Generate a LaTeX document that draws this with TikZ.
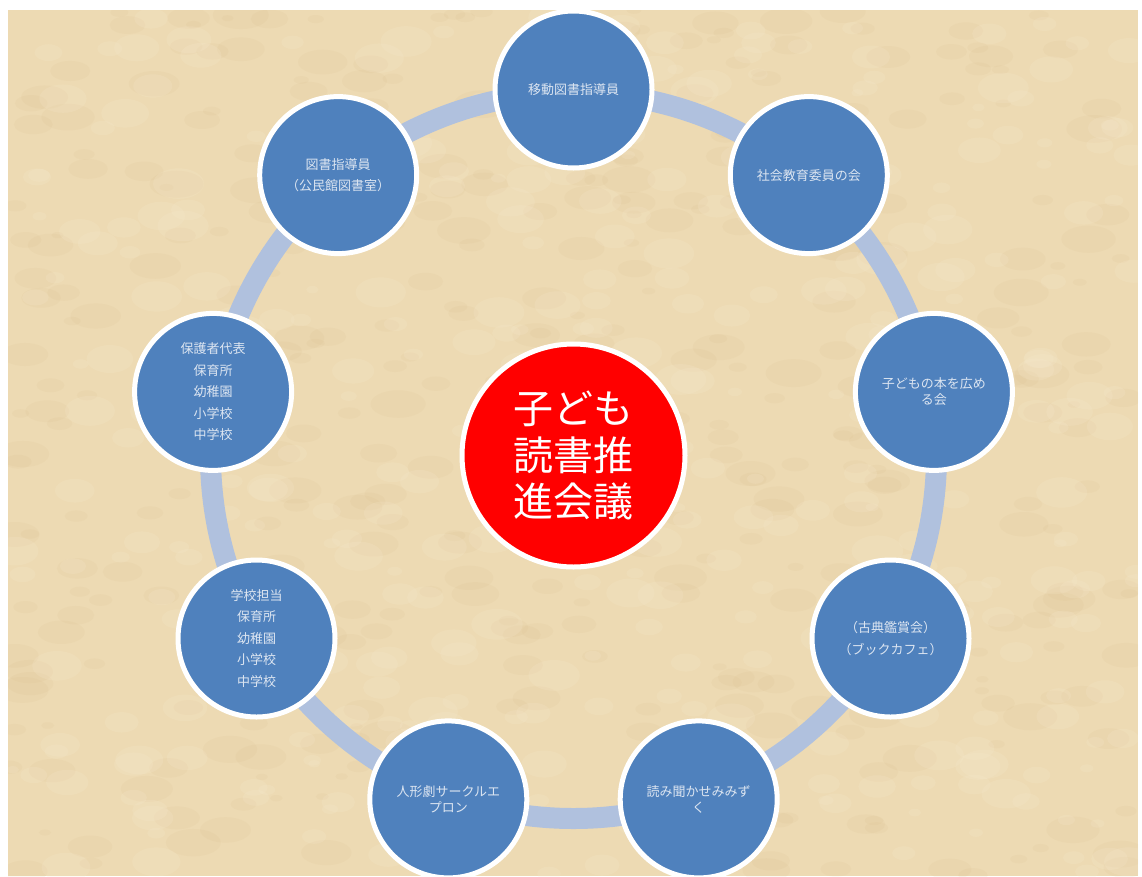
\documentclass[tikz,border=0pt]{standalone}
\usepackage{fontspec}
\setmainfont{Noto Sans CJK JP}
\usepackage{xcolor}
\usepackage{tikz}

\definecolor{parch}{HTML}{EDDAB3}
\definecolor{parchdark}{HTML}{D3B47E}
\definecolor{parchlight}{HTML}{F8EBD0}
\definecolor{ringblue}{HTML}{B0C1DE}
\definecolor{memberblue}{HTML}{4F81BD}
\definecolor{membertext}{HTML}{DCE5F1}

\tikzset{
    member/.style = {circle, draw = white, line width = 5pt, fill = memberblue, minimum size = 157pt,
                     inner sep = 0pt, align = center, text = membertext, font = \fontsize{13}{16}\selectfont},
    memberlist/.style = {member, font = \fontsize{13}{21.5}\selectfont},
    hub/.style = {circle, draw = white, line width = 5pt, fill = red, minimum size = 223pt,
                  inner sep = 0pt, align = center, text = white, font = \fontsize{40}{46.5}\selectfont},
    ring/.style = {draw = ringblue, line width = 21pt}
}

\begin{document}
\begin{tikzpicture}[x = 1pt, y = -1pt]
    \useasboundingbox (0, 0) rectangle (1142, 876);
    % parchment
    \fill [parch] (8, 10) rectangle (1138, 876);
    \begin{scope}
        \clip (8, 10) rectangle (1138, 876);
        \pgfmathsetseed{11}
        \foreach \i in {1, ..., 420} {
            \pgfmathsetmacro{\bx}{8 + 1130*rnd}
            \pgfmathsetmacro{\by}{10 + 866*rnd}
            \pgfmathsetmacro{\br}{6 + 22*rnd}
            \fill [parchdark, opacity = 0.09] (\bx, \by) ellipse [x radius = \br, y radius = 0.5*\br];
        }
        \foreach \i in {1, ..., 380} {
            \pgfmathsetmacro{\bx}{8 + 1130*rnd}
            \pgfmathsetmacro{\by}{10 + 866*rnd}
            \pgfmathsetmacro{\br}{6 + 20*rnd}
            \fill [parchlight, opacity = 0.18] (\bx, \by) ellipse [x radius = \br, y radius = 0.6*\br];
        }
    \end{scope}

    \coordinate (o) at (573.5, 455.5);
    \draw [ring] (o) circle [radius = 363];

    \node (c) at (o) [hub] {子ども\\読書推\\進会議};

    \node (ido) at (573.5, 89.5) [member] {移動図書指導員};
    \node (shakai) at (808.8, 175.1) [member] {社会教育委員の会};
    \node (hon) at (933.9, 391.9) [member] {子どもの本を広め\\る会};
    \node (koten) at (890.5, 638.5) [memberlist] {（古典鑑賞会）\\（ブックカフェ）};
    \node (mimizuku) at (698.7, 799.4) [member] {読み聞かせみみず\\く};
    \node (epuron) at (448.3, 799.4) [member] {人形劇サークルエ\\プロン};
    \node (gakko) at (256.5, 638.5) [memberlist] {学校担当\\保育所\\幼稚園\\小学校\\中学校};
    \node (hogosha) at (213.1, 391.9) [memberlist] {保護者代表\\保育所\\幼稚園\\小学校\\中学校};
    \node (kominkan) at (338.2, 175.1) [memberlist] {図書指導員\\（公民館図書室）};
\end{tikzpicture}
\end{document}
